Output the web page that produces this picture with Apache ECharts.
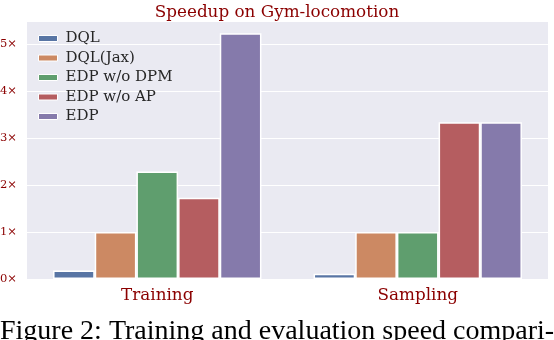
<!DOCTYPE html>
<html>
<head>
<meta charset="utf-8">
<script src="https://cdn.jsdelivr.net/npm/echarts@6/dist/echarts.min.js"></script>
<style>
  html, body { margin: 0; padding: 0; background: #fff; }
  #chart { width: 554px; height: 340px; }
</style>
</head>
<body>
<div id="chart"></div>
<script>
// data
var categories = ['Training', 'Sampling'];
var seriesNames = ['DQL', 'DQL(Jax)', 'EDP w/o DPM', 'EDP w/o AP', 'EDP'];
var dql = [0.18, 0.11];
var dqlJax = [1.0, 1.0];
var edpNoDpm = [2.29, 1.0];
var edpNoAp = [1.73, 3.34];
var edp = [5.24, 3.34];
var yTicks = [0, 1, 2, 3, 4, 5];

var colors = ['#5875a4', '#cc8963', '#5f9e6e', '#b55d60', '#857aab'];
var values = [dql, dqlJax, edpNoDpm, edpNoAp, edp];
var darkRed = '#8b0000';
var serif = '"DejaVu Serif", serif';

var myChart = echarts.init(document.getElementById('chart'));

var series = seriesNames.map(function (name, i) {
    return {
        name: name,
        type: 'bar',
        data: values[i],
        barGap: '0%',
        barCategoryGap: '20%',
        itemStyle: {
            color: colors[i],
            borderColor: '#ffffff',
            borderWidth: 1.5
        }
    };
});

var option = {
    animation: false,
    backgroundColor: '#ffffff',
    title: {
        text: 'Speedup on Gym-locomotion',
        left: 'center',
        top: -1,
        textStyle: {
            fontFamily: serif,
            fontWeight: 'normal',
            fontSize: 16.8,
            color: darkRed
        }
    },
    legend: {
        orient: 'vertical',
        left: 33,
        top: 26,
        itemWidth: 19,
        itemHeight: 6,
        itemGap: 4.5,
        icon: 'rect',
        data: seriesNames,
        textStyle: {
            fontFamily: serif,
            fontSize: 15,
            color: '#262626',
            padding: [0, 0, 0, 3]
        },
        itemStyle: {
            borderColor: '#ffffff',
            borderWidth: 1
        }
    },
    grid: {
        left: 27,
        right: 6,
        top: 21,
        bottom: 61,
        containLabel: false,
        outerBoundsMode: 'none',
        show: true,
        backgroundColor: '#eaeaf2',
        borderWidth: 0
    },
    xAxis: {
        type: 'category',
        data: categories,
        axisLine: { show: false },
        axisTick: { show: false },
        axisLabel: {
            margin: 8,
            fontFamily: serif,
            fontSize: 16.8,
            color: darkRed
        }
    },
    yAxis: {
        type: 'value',
        min: 0,
        max: 5.5,
        interval: 1,
        axisLine: { show: false },
        axisTick: { show: false },
        axisLabel: {
            margin: 10,
            fontFamily: serif,
            fontSize: 11.5,
            color: darkRed,
            showMaxLabel: false,
            formatter: function (v) {
                return yTicks.indexOf(v) >= 0 ? v + '×' : '';
            }
        },
        splitLine: {
            lineStyle: { color: '#ffffff', width: 1.2 }
        }
    },
    graphic: [{
        type: 'text',
        left: 0,
        top: 318,
        style: {
            text: 'Figure 2: Training and evaluation speed compari-',
            font: '28px "Liberation Serif", serif',
            fill: '#000000'
        }
    }],
    series: series
};

myChart.setOption(option);
window.addEventListener('resize', function () {
    myChart.resize();
});
</script>
</body>
</html>
